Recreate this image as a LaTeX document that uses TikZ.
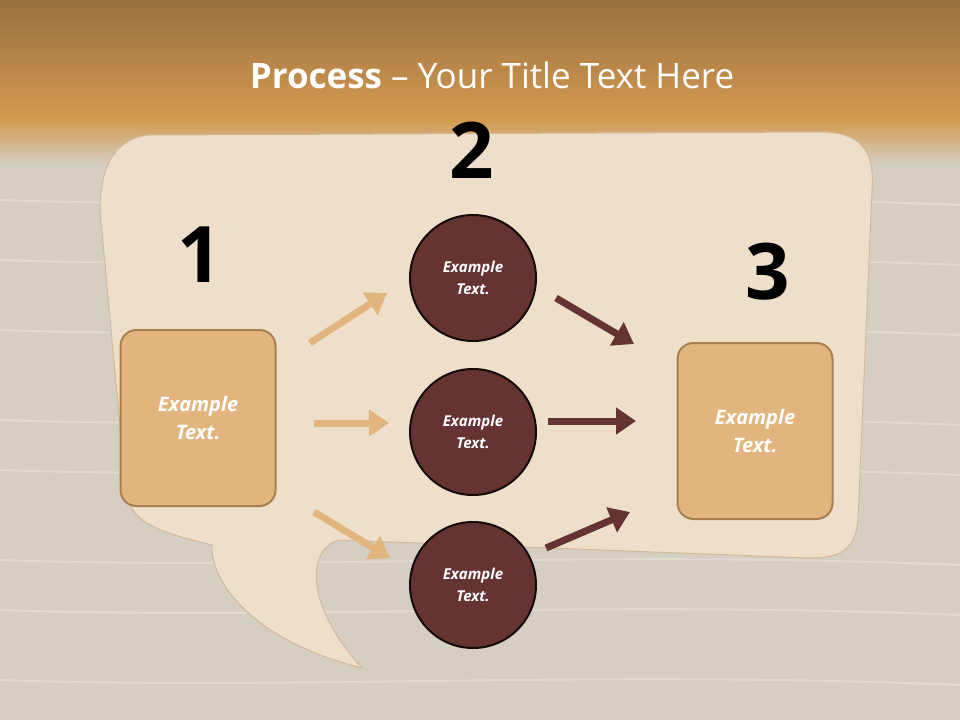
\documentclass[tikz,border=0pt]{standalone}
\usepackage{fontspec}
\setmainfont{Open Sans}
\usetikzlibrary{arrows.meta}
\definecolor{tan}{HTML}{E3B57E}
\definecolor{tanb}{HTML}{A8804F}
\definecolor{wine}{HTML}{663333}
\definecolor{wood}{HTML}{D5CEC3}
\definecolor{paper}{HTML}{EEDFCA}
\tikzset{
 box/.style={draw=tanb,line width=2pt,fill=tan,rounded corners=16pt,minimum width=155pt,minimum height=176pt,text=white,font=\bfseries\itshape\fontsize{20}{28}\selectfont,align=center},
 circ/.style={circle,draw=black!80!wine,line width=2pt,fill=wine,minimum size=126pt,text=white,font=\bfseries\itshape\fontsize{15}{22}\selectfont,align=center},
 num/.style={font=\bfseries\fontsize{78}{84}\selectfont},
 larr/.style={tan,line width=7pt,-{Triangle[length=20pt,width=26pt]}},
 darr/.style={wine,line width=7pt,-{Triangle[length=20pt,width=26pt]}}
}
\begin{document}
\begin{tikzpicture}[x=1pt,y=-1pt]
\useasboundingbox (0,0) rectangle (960,720);
\fill[wood] (0,0) rectangle (960,720);
\foreach \y in {200,260,330,420,470,560,610,680}{\draw[white!50!wood,line width=2pt,opacity=.5] (0,\y) .. controls (300,\y+10) and (600,\y-10) .. (960,\y+5);}
\shade[top color={rgb,255:red,154;green,112;blue,64},bottom color={rgb,255:red,212;green,154;blue,80}] (0,0) rectangle (960,120);
\shade[top color={rgb,255:red,212;green,154;blue,80},bottom color=wood] (0,120) rectangle (960,165);
\fill[paper,draw=tanb!40!paper,line width=1pt] (150,135) -- (820,132) .. controls (860,132) and (875,150) .. (872,190) -- (858,520) .. controls (855,550) and (840,558) .. (810,558) -- (340,540) .. controls (310,545) and (300,600) .. (362,668) .. controls (250,640) and (210,580) .. (212,545) .. controls (150,530) and (125,520) .. (125,480) -- (100,210) .. controls (100,160) and (120,137) .. (150,135) -- cycle;
\node[text=white,font=\fontsize{35}{40}\selectfont] (title) at (492,75) {\textbf{Process} – Your Title Text Here};
\node[num] (n1) at (200,255) {1};
\node[num] (n2) at (472,150) {2};
\node[num] (n3) at (768,272) {3};
\node[box] (b1) at (198,418) {Example\\Text.};
\node[box] (b3) at (755,431) {Example\\Text.};
\node[circ] (c1) at (473,278) {Example\\Text.};
\node[circ] (c2) at (473,432) {Example\\Text.};
\node[circ] (c3) at (473,585) {Example\\Text.};
\coordinate (a1s) at (310,343); \coordinate (a1e) at (387,293);
\coordinate (a2s) at (314,423); \coordinate (a2e) at (389,423);
\coordinate (a3s) at (314,512); \coordinate (a3e) at (390,558);
\coordinate (d1s) at (556,298); \coordinate (d1e) at (634,344);
\coordinate (d2s) at (548,421); \coordinate (d2e) at (636,421);
\coordinate (d3s) at (546,548); \coordinate (d3e) at (630,512);
\draw[larr] (a1s) -- (a1e);
\draw[larr] (a2s) -- (a2e);
\draw[larr] (a3s) -- (a3e);
\draw[darr] (d1s) -- (d1e);
\draw[darr] (d2s) -- (d2e);
\draw[darr] (d3s) -- (d3e);
\end{tikzpicture}
\end{document}
